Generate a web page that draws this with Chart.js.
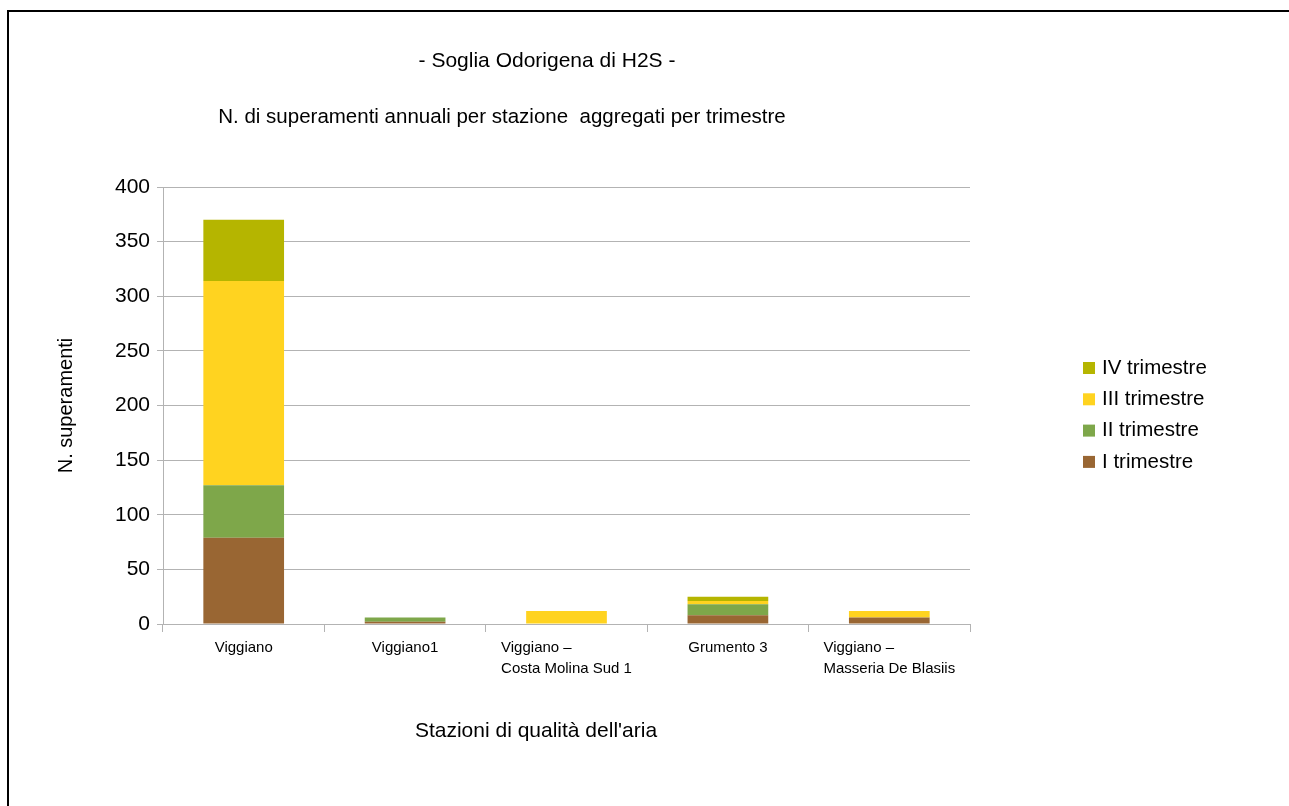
<!DOCTYPE html>
<html>
<head>
<meta charset="utf-8">
<script src="https://cdn.jsdelivr.net/npm/chart.js@4.4.1/dist/chart.umd.min.js"></script>
<style>
  html, body { margin: 0; padding: 0; background: #fff; }
  #wrap { position: relative; width: 1289px; height: 806px; overflow: hidden; }
  #frame { position: absolute; left: 7px; top: 10px; width: 1400px; height: 900px;
           border-left: 2px solid #000; border-top: 2px solid #000; }
  canvas { position: absolute; left: 0; top: 0; }
</style>
</head>
<body>
<div id="wrap">
  <div id="frame"></div>
  <canvas id="grafico" width="1289" height="806"></canvas>
</div>
<script>
// Stazioni (etichette asse X, righe multiple)
const stazioni = [
  ['Viggiano'],
  ['Viggiano1'],
  ['Viggiano \u2013', 'Costa Molina Sud 1'],
  ['Grumento 3'],
  ['Viggiano \u2013', 'Masseria De Blasiis']
];

// Superamenti per trimestre
const trim1 = [79, 2, 0, 8, 6];
const trim2 = [48, 4, 0, 10, 0];
const trim3 = [187, 0, 12, 3, 6];
const trim4 = [56, 0, 0, 4, 0];

const etichette = ['I trimestre', 'II trimestre', 'III trimestre', 'IV trimestre'];
const colori = ['#996633', '#7ea74a', '#ffd320', '#b5b500'];

const yTicks = [0, 50, 100, 150, 200, 250, 300, 350, 400];

const FONT = 'Liberation Sans, Arial, sans-serif';

// Titoli, etichette X e legenda disegnati a mano
const testiPlugin = {
  id: 'testi',
  afterDraw(chart) {
    const ctx = chart.ctx;
    ctx.save();
    ctx.fillStyle = '#000';
    ctx.textBaseline = 'middle';

    ctx.font = '21px ' + FONT;
    ctx.textAlign = 'center';
    ctx.fillText('- Soglia Odorigena di H2S -', 547, 61);
    ctx.font = '20.5px ' + FONT;
    ctx.fillText('N. di superamenti annuali per stazione  aggregati per trimestre', 502, 117);

    // etichette stazioni, allineate a sinistra dentro un blocco centrato
    const xs = chart.scales.x;
    ctx.font = '15px ' + FONT;
    ctx.textAlign = 'left';
    stazioni.forEach((righe, i) => {
      const cx = xs.getPixelForValue(i);
      const w = Math.max(...righe.map(r => ctx.measureText(r).width));
      righe.forEach((r, k) => ctx.fillText(r, cx - w / 2, 648 + k * 21));
    });

    // titolo asse X
    ctx.font = '21px ' + FONT;
    ctx.textAlign = 'center';
    ctx.fillText("Stazioni di qualit\u00e0 dell'aria", 536, 731);

    // legenda (ordine inverso)
    ctx.font = '20.5px ' + FONT;
    ctx.textAlign = 'left';
    const ds = chart.data.datasets;
    for (let k = ds.length - 1, n = 0; k >= 0; k--, n++) {
      const y = 368 + n * 31.3;
      ctx.fillStyle = ds[k].backgroundColor;
      ctx.fillRect(1083, y - 6, 12, 12);
      ctx.fillStyle = '#000';
      ctx.fillText(ds[k].label, 1102, y);
    }
    ctx.restore();
  }
};

const ctx = document.getElementById('grafico').getContext('2d');
new Chart(ctx, {
  type: 'bar',
  data: {
    labels: stazioni.map(s => s.join(' ')),
    datasets: [
      { label: etichette[0], data: trim1, backgroundColor: colori[0] },
      { label: etichette[1], data: trim2, backgroundColor: colori[1] },
      { label: etichette[2], data: trim3, backgroundColor: colori[2] },
      { label: etichette[3], data: trim4, backgroundColor: colori[3] }
    ]
  },
  options: {
    responsive: false,
    animation: false,
    layout: { padding: { left: 45, right: 319, top: 187, bottom: 0 } },
    datasets: { bar: { barPercentage: 0.5, categoryPercentage: 1, borderWidth: 0 } },
    plugins: { legend: { display: false }, tooltip: { enabled: false } },
    scales: {
      x: {
        stacked: true,
        grid: { display: true, drawOnChartArea: false, color: '#b3b3b3', tickLength: 8, offset: true },
        border: { color: '#b3b3b3', width: 1 },
        ticks: { display: false },
        afterFit(scale) { scale.height = 182; }
      },
      y: {
        stacked: true,
        min: 0,
        max: 400,
        afterBuildTicks(scale) { scale.ticks = yTicks.map(v => ({ value: v })); },
        grid: { color: '#b3b3b3', tickLength: 6 },
        border: { color: '#b3b3b3', width: 1 },
        ticks: { color: '#000', font: { family: FONT, size: 21 }, padding: 7 },
        title: {
          display: true,
          text: 'N. superamenti',
          color: '#000',
          font: { family: FONT, size: 20 },
          padding: { top: 9, bottom: 0 }
        },
        afterFit(scale) { scale.width = 118; }
      }
    }
  },
  plugins: [testiPlugin]
});
</script>
</body>
</html>
